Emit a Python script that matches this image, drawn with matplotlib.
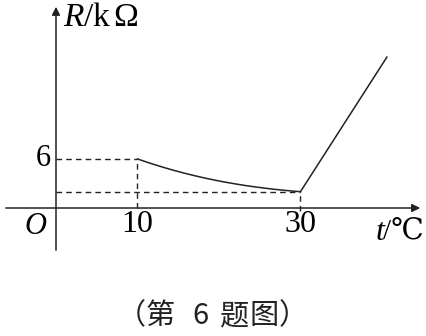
import matplotlib
matplotlib.use("Agg")
import matplotlib.pyplot as plt
import numpy as np

# data
t_curve = [10, 13.6, 17.7, 21.8, 25.9, 30]
R_curve = [6, 4.8, 3.8, 3.0, 2.35, 2]
t_line = [30, 40.6]
R_line = [2, 18.4]
x_ticks = [10, 30]
x_tick_labels = ["10", "30"]
y_ticks = [6]
y_tick_labels = ["6"]
R_low = 2
caption_chars = ["第", "6", "题", "图"]

plt.rcParams['mathtext.fontset'] = 'custom'
plt.rcParams['mathtext.rm'] = 'Liberation Serif'
plt.rcParams['mathtext.it'] = 'Liberation Serif:italic'

W, H = 427, 336
fig = plt.figure(figsize=(W / 100, H / 100), dpi=100)
ax = fig.add_axes([0, 0, 1, 1])
sx, sy = 8.15, 8.2
x0, y0 = 56, 208  # pixel of origin
ax.set_xlim(-x0 / sx, (W - x0) / sx)
ax.set_ylim(-(H - y0) / sy, y0 / sy)
ax.axis('off')

def px(xp, yp):
    return ((xp - x0) / sx, (y0 - yp) / sy)

lw = 1.1
# axes with arrows
ax.annotate('', xy=px(423, y0), xytext=px(3, y0),
            arrowprops=dict(arrowstyle='-|>', color='#222', lw=lw, mutation_scale=12))
ax.annotate('', xy=px(x0, 4), xytext=px(x0, 253),
            arrowprops=dict(arrowstyle='-|>', color='#222', lw=lw, mutation_scale=12))

# curves
tc = np.array(t_curve); rc = np.array(R_curve)
coef = np.polyfit(tc, rc, 3)
tt = np.linspace(t_curve[0], t_curve[-1], 100)
ax.plot(tt, np.polyval(coef, tt), color='#222', lw=lw)
ax.plot(t_line, R_line, color='#222', lw=lw)

# dashed guides
dash = dict(color='#222', lw=1.0, ls=(0, (4, 3)))
ax.plot([0, x_ticks[0]], [y_ticks[0], y_ticks[0]], **dash)
ax.plot([x_ticks[0], x_ticks[0]], [0, y_ticks[0]], **dash)
ax.plot([0, x_ticks[1]], [R_low, R_low], **dash)
ax.plot([x_ticks[1], x_ticks[1]], [-0.4, R_low], **dash)

serif = 'Liberation Serif'
for xv, lab in zip(x_ticks, x_tick_labels):
    ax.text(xv, px(0, 225)[1], lab, fontsize=23, family=serif, ha='center', va='center')
for yv, lab in zip(y_ticks, y_tick_labels):
    ax.text(px(43, 0)[0], yv, lab, fontsize=22, family=serif, ha='center', va='center')
ax.text(*px(35, 226), 'O', fontsize=22, family=serif, style='italic', ha='center', va='center')

ax.text(*px(63, 17), r'$R/\mathrm{k}\,\Omega$', fontsize=24, ha='left', va='center')

# t/℃ label, right-aligned to the picture edge
deg = ax.text(*px(424, 232), '/℃', fontsize=21, family=['Liberation Serif', 'DejaVu Serif'],
              ha='right', va='center')
fig.canvas.draw()
bb = deg.get_window_extent()
left_px = bb.x0
ax.text(*px(left_px + 1, 232), 't', fontsize=23, family=serif, style='italic',
        ha='right', va='center')

# caption, placed piece by piece
cjk = ['Noto Sans CJK SC']
ax.text(*px(146, 316), '（', fontsize=21, family=cjk, ha='right', va='center', color='#222')
for ch, xc in zip(caption_chars, [160, 200, 234, 264]):
    ax.text(*px(xc, 316), ch, fontsize=21, family=cjk, ha='center', va='center', color='#222')
ax.text(*px(279, 316), '）', fontsize=21, family=cjk, ha='left', va='center', color='#222')

fig.savefig('out.png', dpi=100)
